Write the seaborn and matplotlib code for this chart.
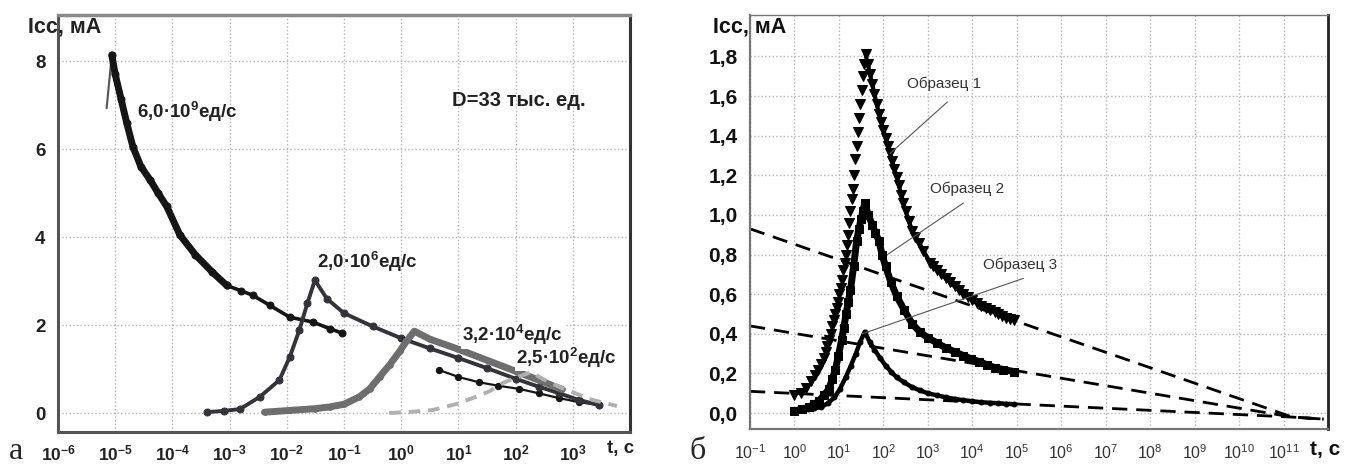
import numpy as np
import pandas as pd
import matplotlib
matplotlib.use("Agg")
import matplotlib.pyplot as plt
import seaborn as sns
from matplotlib.ticker import FixedLocator, FixedFormatter, LogLocator, MultipleLocator, NullFormatter, NullLocator

# ---------------- data: left panel (a), lg = log10(t, s), current in mA ----------------
a1_lg = [-5.15, -5.1, -5.06, -5.0, -4.9, -4.8, -4.69, -4.55, -4.39, -4.25, -4.1, -3.87,
         -3.6, -3.3, -3.05, -2.8, -2.6, -2.3, -1.95, -1.55, -1.25, -1.04]
a1_y = [6.93, 7.6, 8.14, 7.7, 7.15, 6.6, 6.05, 5.6, 5.3, 5.0, 4.7, 4.05,
        3.6, 3.2, 2.9, 2.78, 2.68, 2.45, 2.18, 2.07, 1.92, 1.82]
a1b_lg = [0.66, 1.0, 1.36, 1.7, 2.06, 2.4, 2.76, 3.1, 3.46]
a1b_y = [0.98, 0.82, 0.7, 0.62, 0.55, 0.45, 0.34, 0.25, 0.18]
a2_lg = [-3.4, -3.1, -2.82, -2.47, -2.13, -1.95, -1.78, -1.64, -1.51, -1.3, -1.0, -0.5,
         0.0, 0.5, 1.0, 1.5, 2.0, 2.4, 2.76, 3.1, 3.46]
a2_y = [0.02, 0.05, 0.09, 0.37, 0.75, 1.27, 1.89, 2.5, 3.02, 2.6, 2.27, 1.97,
        1.7, 1.47, 1.25, 1.02, 0.78, 0.6, 0.45, 0.3, 0.18]
a3_lg = [-2.39, -1.95, -1.5, -1.25, -1.0, -0.73, -0.55, -0.38, -0.2, -0.03, 0.1, 0.23,
         0.5, 1.0, 1.5, 2.0, 2.4, 2.81]
a3_y = [0.02, 0.06, 0.1, 0.14, 0.2, 0.37, 0.55, 0.82, 1.1, 1.4, 1.65, 1.86,
        1.68, 1.45, 1.2, 0.95, 0.75, 0.54]
a4_lg = [-0.21, 0.2, 0.55, 0.95, 1.31, 1.55, 1.77, 2.0, 2.27, 2.55, 2.81, 3.1, 3.34, 3.77]
a4_y = [0.0, 0.03, 0.07, 0.2, 0.37, 0.5, 0.68, 0.8, 0.93, 0.72, 0.57, 0.42, 0.3, 0.16]
a_labels = ["6,0·10$^{\\mathbf{9}}$ед/с", "2,0·10$^{\\mathbf{6}}$ед/с",
            "3,2·10$^{\\mathbf{4}}$ед/с", "2,5·10$^{\\mathbf{2}}$ед/с"]
a_xticks_exp = [-6, -5, -4, -3, -2, -1, 0, 1, 2, 3, 4]
a_yticks = [0, 2, 4, 6, 8]

# ---------------- data: right panel (б) ----------------
b1_lg = [0, 0.14, 0.27, 0.37, 0.46, 0.54, 0.6, 0.66, 0.7, 0.74, 0.78, 0.82, 0.85, 0.89,
         0.92, 0.95, 0.98, 1.01, 1.04, 1.07, 1.1, 1.13, 1.15, 1.18, 1.2, 1.23, 1.26,
         1.29, 1.31, 1.34, 1.37, 1.4, 1.42, 1.45, 1.48, 1.51, 1.54, 1.57, 1.6,
         1.65, 1.7, 1.75, 1.8, 1.85, 1.9, 1.95, 2.0, 2.05, 2.1, 2.15, 2.2, 2.25, 2.3,
         2.35, 2.4, 2.45, 2.5, 2.57, 2.65, 2.72, 2.8, 2.9, 3.05, 3.12, 3.2, 3.3, 3.4,
         3.5, 3.6, 3.7, 3.8, 3.9, 4.0, 4.1, 4.2, 4.3, 4.4, 4.5, 4.57, 4.66, 4.75, 4.84, 4.93]
b1_y = [0.09, 0.1, 0.125, 0.16, 0.19, 0.22, 0.25, 0.28, 0.31, 0.34, 0.37, 0.4, 0.44, 0.47,
        0.5, 0.53, 0.56, 0.6, 0.63, 0.67, 0.72, 0.76, 0.8, 0.85, 0.9, 0.96, 1.02,
        1.08, 1.13, 1.2, 1.28, 1.35, 1.42, 1.49, 1.56, 1.63, 1.7, 1.76, 1.81,
        1.76, 1.71, 1.66, 1.61, 1.56, 1.51, 1.47, 1.43, 1.39, 1.35, 1.31, 1.27, 1.23, 1.19,
        1.15, 1.1, 1.06, 1.02, 0.97, 0.92, 0.89, 0.86, 0.82, 0.76, 0.74, 0.72, 0.7, 0.68,
        0.66, 0.64, 0.62, 0.6, 0.585, 0.57, 0.555, 0.54, 0.53, 0.52, 0.51, 0.5, 0.49, 0.48,
        0.475, 0.47]
b2_lg = [0, 0.16, 0.32, 0.44, 0.55, 0.66, 0.77, 0.85, 0.92, 0.99, 1.06, 1.11, 1.16, 1.21,
         1.26, 1.33, 1.4, 1.45, 1.5, 1.54, 1.58, 1.66, 1.75, 1.82, 1.9, 1.97, 2.05, 2.17,
         2.3, 2.47, 2.65, 2.82, 3.0, 3.2, 3.4, 3.6, 3.8, 3.97, 4.15, 4.32, 4.5, 4.7, 4.93]
b2_y = [0.01, 0.02, 0.03, 0.045, 0.06, 0.09, 0.12, 0.17, 0.22, 0.29, 0.37, 0.43, 0.5, 0.56,
        0.62, 0.74, 0.87, 0.93, 0.98, 1.02, 1.06, 1.0, 0.95, 0.91, 0.87, 0.8, 0.74, 0.66,
        0.59, 0.52, 0.45, 0.41, 0.38, 0.355, 0.33, 0.31, 0.29, 0.275, 0.26, 0.245, 0.23,
        0.22, 0.21]
b3_lg = [0, 0.15, 0.3, 0.45, 0.6, 0.75, 0.9, 1.02, 1.15, 1.27, 1.38, 1.48, 1.58, 1.69,
         1.8, 1.92, 2.05, 2.17, 2.3, 2.47, 2.65, 2.82, 3.0, 3.2, 3.4, 3.6, 3.8, 4.0, 4.2,
         4.4, 4.57, 4.75, 4.93]
b3_y = [0.01, 0.015, 0.02, 0.025, 0.03, 0.05, 0.08, 0.12, 0.18, 0.24, 0.3, 0.36, 0.41, 0.36,
        0.32, 0.28, 0.24, 0.21, 0.18, 0.155, 0.13, 0.115, 0.1, 0.09, 0.08, 0.072, 0.065,
        0.06, 0.055, 0.052, 0.05, 0.047, 0.045]
ext_lg = [-1, 11.2, 11.9]
ext1_y = [0.93, -0.02, -0.03]
ext2_y = [0.44, -0.02, -0.03]
ext3_y = [0.11, -0.02, -0.03]
b_names = ["Образец 1", "Образец 2", "Образец 3"]
b_xticks_exp = list(range(-1, 13))
b_yticks = [0.0, 0.2, 0.4, 0.6, 0.8, 1.0, 1.2, 1.4, 1.6, 1.8]

# ---------------- style ----------------
sns.set_style("white")
plt.rcParams["font.family"] = ["Liberation Sans", "DejaVu Sans"]
plt.rcParams["mathtext.fontset"] = "custom"
plt.rcParams["mathtext.rm"] = "Liberation Sans"
plt.rcParams["mathtext.bf"] = "Liberation Sans:bold"
plt.rcParams["mathtext.it"] = "Liberation Sans:italic"

fig = plt.figure(figsize=(13.46, 4.67), dpi=100)
axL = fig.add_axes([0.0431, 0.075, 0.425, 0.893])
axR = fig.add_axes([0.5572, 0.0814, 0.4294, 0.887])


def draw(ax, lg, y, color, **kw):
    kw.setdefault("mec", color)
    sns.lineplot(x=10.0 ** np.asarray(lg), y=np.asarray(y), ax=ax, sort=False,
                 estimator=None, color=color, legend=False, **kw)


for ax in (axL, axR):
    ax.set_xscale("log")
    ax.set_axisbelow(True)
    ax.grid(True, which="major", linestyle=":", color="#b5b5b5", linewidth=1.0)
    ax.set_xlabel("")
    ax.set_ylabel("")

# ---- left panel ----
draw(axL, a1_lg[:3], a1_y[:3], "#555555", lw=1.5)
draw(axL, a1_lg[2:15], a1_y[2:15], "#151515", lw=5.0, marker="o", ms=5)
draw(axL, a1_lg[14:], a1_y[14:], "#151515", lw=2.6, marker="o", ms=5)
draw(axL, a1b_lg, a1b_y, "#151515", lw=1.6, marker="o", ms=4.5)
draw(axL, a2_lg, a2_y, "#333339", lw=2.8, marker="o", ms=5)
draw(axL, a3_lg, a3_y, "#6e6e6e", lw=5.0, marker="o", ms=4)
draw(axL, a4_lg, a4_y, "#b0b0b0", lw=2.8, linestyle=(0, (3, 2)))

axL.set_xlim(1e-6, 1e4)
axL.set_ylim(-0.43, 9.05)
axL.xaxis.set_major_locator(FixedLocator([10.0 ** k for k in a_xticks_exp]))
axL.xaxis.set_major_formatter(FixedFormatter(
    [r"$\mathbf{10^{%d}}$" % k for k in a_xticks_exp[:-1]] + [""]))
axL.xaxis.set_minor_locator(LogLocator(base=10, subs=np.arange(2, 10), numticks=40))
axL.xaxis.set_minor_formatter(NullFormatter())
axL.yaxis.set_major_locator(FixedLocator(a_yticks))
axL.yaxis.set_major_formatter(FixedFormatter([str(v) for v in a_yticks]))
axL.yaxis.set_minor_locator(MultipleLocator(0.4))
axL.tick_params(axis="both", which="major", direction="out", length=5, width=1.5,
                color="#444444", pad=4)
axL.tick_params(axis="both", which="minor", direction="out", length=3, width=1.2,
                color="#444444")
axL.tick_params(axis="x", labelsize=12.5, pad=3, labelcolor="#222222")
axL.tick_params(axis="y", labelsize=13.5, labelcolor="#222222")
for lab in axL.get_yticklabels():
    lab.set_fontweight("bold")
for s, c, w in (("left", "#555555", 2.2), ("bottom", "#555555", 2.2),
                ("top", "#8a8a8a", 2.5), ("right", "#333333", 2.2)):
    axL.spines[s].set_color(c)
    axL.spines[s].set_linewidth(w)
    axL.spines[s].set_visible(True)

tkw = dict(fontsize=13.5, fontweight="bold", color="#222222", ha="left", va="center")
axL.text(10 ** -4.62, 6.84, a_labels[0], **tkw)
axL.text(10 ** -1.48, 3.43, a_labels[1], **tkw)
axL.text(10 ** 1.07, 1.77, a_labels[2],
         bbox=dict(facecolor="white", edgecolor="none", pad=1), **tkw)
axL.text(10 ** 2.01, 1.25, a_labels[3],
         bbox=dict(facecolor="white", edgecolor="none", pad=1), **tkw)
axL.text(10 ** 0.89, 7.11, "D=33 тыс. ед.", **dict(tkw, fontsize=14.5))

fig.text(28 / 1346, 1 - 27 / 467, "Icc, мА", fontsize=15.5, fontweight="bold",
         color="#222222", ha="left", va="center")
fig.text(621 / 1346, 1 - 449 / 467, "t, c", fontsize=13.5, fontweight="bold",
         color="#222222", ha="center", va="center")
fig.text(9 / 1346, 1 - 459 / 467, "а", fontsize=23, family="Liberation Serif",
         ha="left", va="baseline")

# ---- right panel ----
pk1 = int(np.argmax(b1_y))
draw(axR, b1_lg[pk1:], b1_y[pk1:], "black", lw=3.0)
draw(axR, b1_lg, b1_y, "black", lw=0, marker="v", ms=6.5)
draw(axR, b2_lg, b2_y, "black", lw=5.0, marker="s", ms=5.5)
draw(axR, b3_lg, b3_y, "black", lw=3.2, marker="o", ms=3.5)
for ey in (ext1_y, ext2_y, ext3_y):
    draw(axR, ext_lg, ey, "black", lw=2.0, linestyle=(0, (5.5, 3.2)))

axR.set_xlim(1e-1, 1e12)
axR.set_ylim(-0.08, 2.01)
axR.xaxis.set_major_locator(FixedLocator([10.0 ** k for k in b_xticks_exp]))
axR.xaxis.set_major_formatter(FixedFormatter(
    [r"$10^{%d}$" % k for k in b_xticks_exp[:-1]] + [""]))
axR.xaxis.set_minor_locator(NullLocator())
axR.yaxis.set_major_locator(FixedLocator(b_yticks))
axR.yaxis.set_major_formatter(FixedFormatter([("%.1f" % v).replace(".", ",") for v in b_yticks]))
axR.tick_params(axis="both", which="major", direction="out", length=6, width=1.3,
                color="#666666")
axR.tick_params(axis="x", labelsize=11.5, labelcolor="#333333", pad=4)
axR.tick_params(axis="y", labelsize=15, labelcolor="#111111", pad=3)
for lab in axR.get_yticklabels():
    lab.set_fontweight("bold")
for s, c, w in (("left", "#777777", 1.6), ("bottom", "#777777", 1.6),
                ("top", "#777777", 1.0), ("right", "#222222", 2.0)):
    axR.spines[s].set_color(c)
    axR.spines[s].set_linewidth(w)
    axR.spines[s].set_visible(True)
axR.spines["top"].set_linestyle((0, (2, 1)))

akw = dict(arrowprops=dict(arrowstyle="-", color="#555555", lw=0.8, shrinkA=0, shrinkB=0))
nkw = dict(fontsize=11, color="#333333", ha="left", va="center")
axR.annotate("", xy=(10 ** 2.15, 1.31), xytext=(10 ** 3.44, 1.57), **akw)
axR.text(10 ** 2.54, 1.66, b_names[0], **nkw)
axR.annotate("", xy=(10 ** 2.09, 0.80), xytext=(10 ** 3.8, 1.06), **akw)
axR.text(10 ** 3.05, 1.13, b_names[1], **nkw)
axR.annotate("", xy=(10 ** 1.52, 0.40), xytext=(10 ** 5.15, 0.68), **akw)
axR.text(10 ** 4.25, 0.75, b_names[2], **nkw)

fig.text(713 / 1346, 1 - 27 / 467, "Icc, мА", fontsize=15.5, fontweight="bold",
         color="#111111", ha="left", va="center")
fig.text(1325 / 1346, 1 - 450 / 467, "t, c", fontsize=15, fontweight="bold",
         color="#111111", ha="center", va="center")
fig.text(690 / 1346, 1 - 459 / 467, "б", fontsize=23, family="Liberation Serif",
         ha="left", va="baseline")

fig.savefig("out.png", dpi=100)
